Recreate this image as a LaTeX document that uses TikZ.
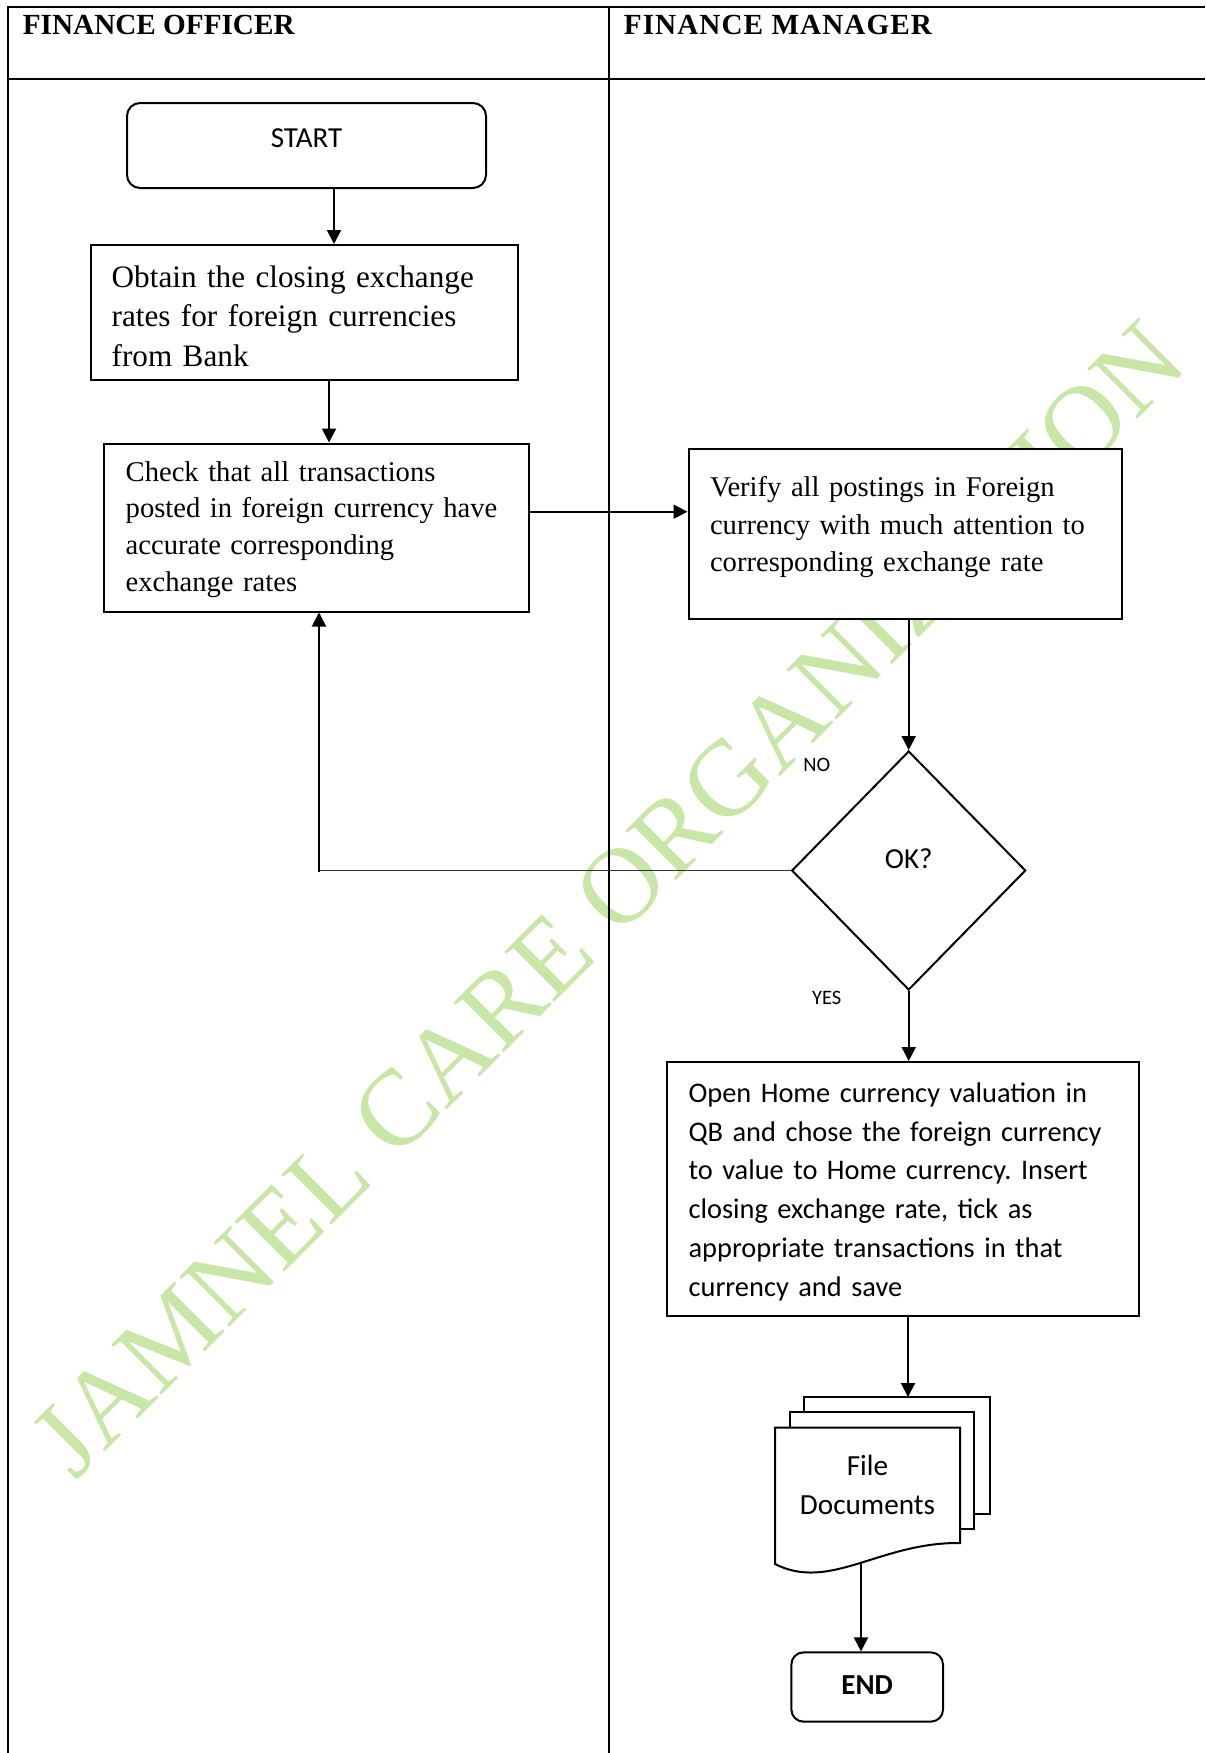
\documentclass[tikz,border=0pt]{standalone}
\usepackage{fontspec}
\setmainfont{Liberation Serif}
\newfontfamily\carlito{Carlito}
\usetikzlibrary{arrows.meta,shapes.geometric}
\definecolor{wmgreen}{RGB}{200,230,166}
\begin{document}
\frenchspacing
\begin{tikzpicture}[x=1pt,y=-1pt,
  box/.style={draw, line width=2pt, fill=white, inner sep=0pt},
  serifbody/.style={align=left, font=\fontsize{28.6}{36.7}\selectfont},
  sansbody/.style={font=\carlito\fontsize{28.4}{38.7}\selectfont},
  lane/.style={line width=2pt},
  arr/.style={line width=2pt, -{Triangle[length=14pt,width=14pt]}},
  lbl/.style={font=\carlito\fontsize{20.5}{24}\selectfont, anchor=base, inner sep=0pt},
  hdr/.style={font=\bfseries\fontsize{29.2}{34}\selectfont, anchor=base west, inner sep=0pt}
]
\useasboundingbox (0,0) rectangle (1205,1753);
\fill[white] (0,0) rectangle (1205,1753);

% watermark behind everything
\node[rotate=45, anchor=base, inner sep=0pt, text=wmgreen,
      font=\fontsize{108}{120}\selectfont] (mark) at (633,924)
      {JAMNEL CARE ORGANIZATION};

% swimlane table
\draw[lane] (7,7) -- (1205,7);
\draw[lane] (7,79) -- (1205,79);
\draw[lane] (7.5,6) -- (7.5,1753);
\draw[lane] (609,6) -- (609,1753);
\node[hdr] (laneA) at (22.7,34.3) {FINANCE OFFICER};
\node[hdr] (laneB) at (623.7,34.3) {\addfontfeatures{LetterSpace=3.6}FINANCE MANAGER};

% process steps
\node[box, rounded corners=13pt, minimum width=359pt, minimum height=85pt,
      font=\carlito\fontsize{29}{35}\selectfont, text height=20pt, text depth=17pt]
      (start) at (306.5,145.5) {START};

\node[box, minimum width=426.5pt, minimum height=135pt, text width=385.1pt,
      align=left, font=\fontsize{31.2}{39.7}\selectfont, text height=25pt, text depth=76pt]
      (obtain) at (304.25,312.5)
      {Obtain the closing exchange\\rates for foreign currencies\\from Bank};

\node[box, serifbody, minimum width=425.3pt, minimum height=168pt, text width=381.9pt,
      text height=20pt, text depth=113pt]
      (check) at (316.65,527.5)
      {Check that all transactions\\posted in foreign currency have\\accurate corresponding\\exchange rates};

\node[box, align=left, font=\fontsize{28.6}{37.5}\selectfont,
      minimum width=433pt, minimum height=170pt, text width=390pt,
      text height=20pt, text depth=95pt]
      (verify) at (905,534)
      {Verify all postings in Foreign\\currency with much attention to\\corresponding exchange rate};

\node[box, diamond, minimum width=234pt, minimum height=239pt,
      font=\carlito\fontsize{29}{35}\selectfont, text height=10pt, text depth=14pt]
      (ok) at (908.7,870.5) {OK?};

\node[box, sansbody, align=left, minimum width=472pt, minimum height=254pt,
      text width=428.8pt, text height=20pt, text depth=193pt]
      (value) at (903,1189)
      {Open Home currency valuation in\\QB and chose the foreign currency\\to value to Home currency. Insert\\closing exchange rate, tick as\\appropriate transactions in that\\currency and save};

% stacked documents
\draw[line width=2pt, fill=white] (804,1397) rectangle (990,1514);
\draw[line width=2pt, fill=white] (790,1412) rectangle (973.5,1529);
\draw[line width=2pt, fill=white] (775,1427.5) -- (960,1427.5) -- (960,1543)
      .. controls (880,1542) and (830,1592) .. (775,1564) -- cycle;
\node[text width=200pt, align=center, inner sep=0pt,
      font=\carlito\fontsize{29.2}{39}\selectfont, text height=20pt, text depth=45pt]
      (docs) at (867.5,1487.5) {File\\Documents};
\coordinate (stacktop) at (908,1397);
\coordinate (stackout) at (861,1563);

\node[box, rounded corners=12pt, minimum width=151.6pt, minimum height=69.2pt,
      font=\carlito\bfseries\fontsize{29}{35}\selectfont, text height=20pt, text depth=6pt]
      (finish) at (867.2,1687) {END};

% decision labels
\node[lbl] (nolbl) at (816.7,771) {NO};
\node[lbl] (yeslbl) at (826.7,1004.7) {YES};

% connectors
\coordinate (s1) at ([xshift=27.5pt]start.south);
\draw[arr] (s1) -- (s1 |- obtain.north);
\coordinate (s2) at ([xshift=24.75pt]obtain.south);
\draw[arr] (s2) -- (s2 |- check.north);
\coordinate (s3) at ([yshift=15.8pt]check.east);
\draw[arr] (s3) -- (s3 -| verify.west);
\draw[arr] (ok.north |- verify.south) -- (ok.north);
\coordinate (loop) at (319,870.5);
\draw[line width=1.3pt, black!80] (ok.west) -- (loop);
\draw[arr] ([yshift=-1pt]loop) -- (loop |- check.south);
\draw[arr] (ok.south) -- (ok.south |- value.north);
\draw[arr] (stacktop |- value.south) -- (stacktop);
\draw[arr] (stackout) -- (stackout |- finish.north);
\end{tikzpicture}
\end{document}
